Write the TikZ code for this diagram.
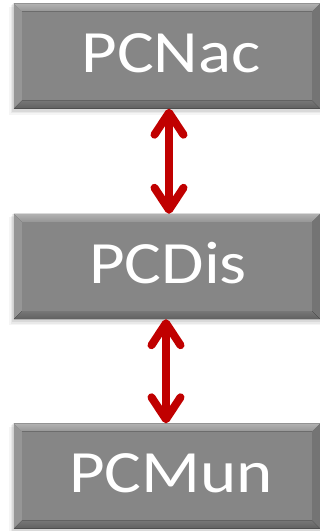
\documentclass[tikz,border=0pt]{standalone}
\usepackage{fontspec}
\setmainfont{Carlito}
\usetikzlibrary{arrows.meta,calc}
\definecolor{boxgray}{RGB}{134,134,134}
\definecolor{bevtop}{RGB}{178,178,178}
\definecolor{bevtopb}{RGB}{150,150,150}
\definecolor{bevleft}{RGB}{150,150,150}
\definecolor{bevright}{RGB}{116,116,116}
\definecolor{bevbot}{RGB}{118,118,118}
\definecolor{bevbotb}{RGB}{96,96,96}
\definecolor{arrowred}{RGB}{192,0,0}
\begin{document}
\begin{tikzpicture}[x=1pt,y=1pt,
  box/.style={rectangle, minimum width=306pt, minimum height=105pt, inner sep=0pt, fill=boxgray},
  boxtext/.style={text=white, font=\fontsize{60}{72}\selectfont, inner sep=0pt},
  link/.style={draw=arrowred, line width=8pt,
    {Straight Barb[round,length=22pt,width=29pt]}-{Straight Barb[round,length=22pt,width=29pt]}}
]
\useasboundingbox (0,0) rectangle (320,-531);
\foreach \n/\y/\t/\tx in {a/-56/PCNac/171, b/-266.5/PCDis/168, c/-476/PCMun/171}{
  % soft shadow
  \foreach \o/\op in {5/0.04,3.5/0.05,2/0.07}{
    \fill[black,opacity=\op] (14-\o,\y-52.5-\o-1) rectangle (320,\y+52.5-\o+2);
  }
  \node[box] (\n) at (167,\y) {};
  \fill[top color=bevtop,bottom color=bevtopb] (\n.north west) -- (\n.north east) -- ($(\n.north east)+(-8,-8)$) -- ($(\n.north west)+(8,-8)$) -- cycle;
  \fill[bevleft] (\n.north west) -- ($(\n.north west)+(8,-8)$) -- ($(\n.south west)+(8,8)$) -- (\n.south west) -- cycle;
  \fill[bevright] (\n.north east) -- ($(\n.north east)+(-8,-8)$) -- ($(\n.south east)+(-8,8)$) -- (\n.south east) -- cycle;
  \fill[top color=bevbot,bottom color=bevbotb] (\n.south west) -- (\n.south east) -- ($(\n.south east)+(-8,8)$) -- ($(\n.south west)+(8,8)$) -- cycle;
  \node[boxtext] (t\n) at (\tx,\y+3) {\scalebox{1.15}[1]{\t}};
}
\draw[link] ($(a.south)+(2,0)$) -- ($(b.north)+(2,0)$);
\draw[link] ($(b.south)+(-1,0)$) -- ($(c.north)+(-1,0)$);
\end{tikzpicture}
\end{document}
